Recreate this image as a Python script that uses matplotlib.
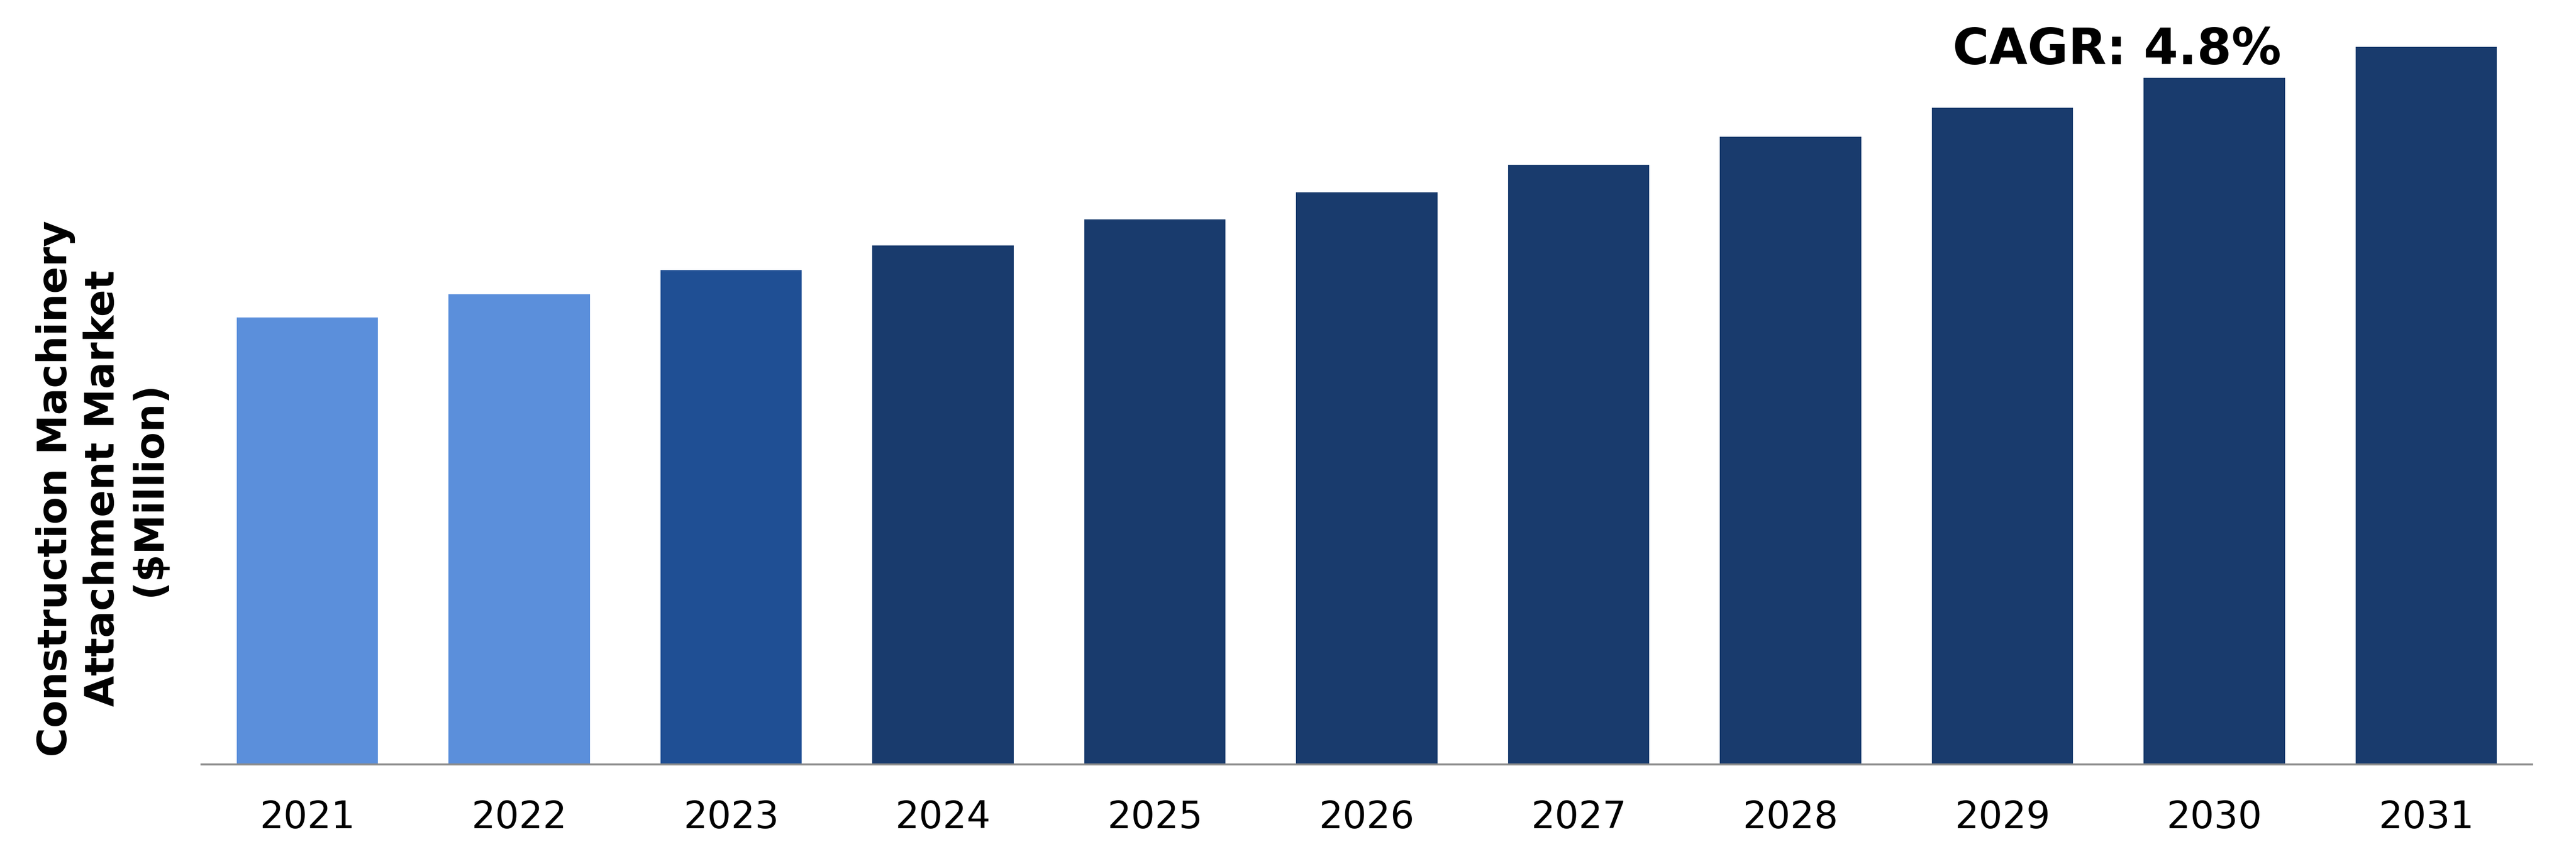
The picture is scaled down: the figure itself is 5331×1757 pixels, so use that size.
import numpy as np
import matplotlib
matplotlib.use("Agg")
import matplotlib.pyplot as plt

years = ["2021", "2022", "2023", "2024", "2025", "2026", "2027", "2028", "2029", "2030", "2031"]
market = [925, 973, 1023, 1074, 1128, 1184, 1241, 1299, 1359, 1421, 1485]
colors = ["#5B8FDB", "#5B8FDB", "#1F4F94"] + ["#193B6D"] * 8
cagr_text = "CAGR: 4.8%"
ylabel = "Construction Machinery\nAttachment Market\n($Million)"

plt.rcParams['font.family'] = ['DejaVu Sans']

fig = plt.figure(figsize=(53.31, 17.57), dpi=100)
# axes area: x 417..5240 px, y bottom at 175 px from bottom, top at figure top
ax = fig.add_axes([417 / 5331, 175 / 1757, 4823 / 5331, 1582 / 1757])

x = np.arange(len(years))
ax.bar(x, market, width=0.667, color=colors, zorder=2)

ax.set_xlim(-0.5, len(years) - 0.5)
ax.set_ylim(0, 1582)

for s in ["top", "right", "left"]:
    ax.spines[s].set_visible(False)
ax.spines["bottom"].set_color("#8c8c8c")
ax.spines["bottom"].set_linewidth(3)
ax.spines["bottom"].set_zorder(3)

ax.set_yticks([])
ax.set_xticks(x)
ax.set_xticklabels(years, fontsize=56, color="black")
ax.tick_params(axis="x", length=0, pad=52)

# cagr label sits between 2029 and 2030
ax.text(8.54, 1449, cagr_text, ha="center", va="baseline",
        fontsize=74, fontweight="bold", color="black")

fig.text(212 / 5331, 746 / 1757, ylabel, rotation=90, ha="center", va="center",
         multialignment="center", fontsize=59.5, fontweight="bold",
         linespacing=1.25, color="black")

fig.savefig("out.png", dpi=100, facecolor="white")
